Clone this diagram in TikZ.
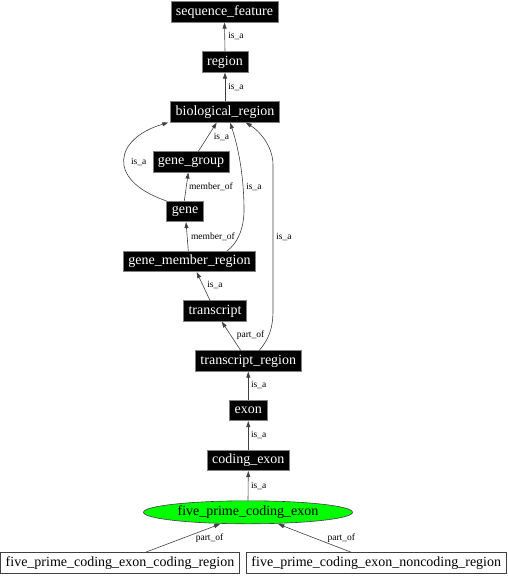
\documentclass[tikz,border=0pt]{standalone}
\usepackage{fontspec}
\setmainfont{Liberation Serif}
\usetikzlibrary{arrows.meta,shapes.geometric}
\definecolor{focusgreen}{HTML}{00FF00}
\definecolor{edgegray}{HTML}{404040}
\definecolor{bordergray}{HTML}{808080}
\begin{document}
\begin{tikzpicture}[x=1pt,y=-1pt,
  term/.style={draw=bordergray, fill=black, text=white, font=\fontsize{14}{16}\selectfont,
    inner xsep=5pt, inner ysep=0pt, minimum height=20.5pt, line width=0.7pt},
  leaf/.style={draw=edgegray, fill=white, text=black, font=\fontsize{14}{16}\selectfont,
    inner xsep=5pt, inner ysep=0pt, minimum height=20.5pt, line width=0.6pt},
  focus/.style={ellipse, draw=edgegray, fill=focusgreen, text=black, font=\fontsize{14}{16}\selectfont,
    inner sep=0pt, minimum width=209pt, minimum height=23pt, line width=0.6pt},
  rel/.style={draw=edgegray, line width=0.6pt, -{Triangle[length=6pt,width=4pt]}},
  lab/.style={font=\fontsize{9.5}{11}\selectfont, inner sep=0pt}
]
\useasboundingbox (0,0) rectangle (508,576);

% nodes
\node[term] (sf)   at (224.5,12)  {sequence\_feature};
\node[term] (reg)  at (225,62)    {region};
\node[term] (bio)  at (225,112)   {biological\_region};
\node[term] (gg)   at (191,162)   {gene\_group};
\node[term] (gene) at (185,211.5) {gene};
\node[term] (gmr)  at (189.5,261.5) {gene\_member\_region};
\node[term] (tx)   at (215,311)   {transcript};
\node[term] (tr)   at (248.3,361) {transcript\_region};
\node[term] (exon) at (248.3,410.5) {exon};
\node[term] (cex)  at (248.3,460.5) {coding\_exon};
\node[focus] (fpce) at (248,512.3) {five\_prime\_coding\_exon};
\node[leaf] (cr)   at (120,563)   {five\_prime\_coding\_exon\_coding\_region};
\node[leaf] (nr)   at (376.3,563) {five\_prime\_coding\_exon\_noncoding\_region};

% edges
\draw[rel] (reg.north) -- (sf.south);
\draw[rel] (bio.north) -- (reg.south);
\draw[rel] ([xshift=7.3pt]gg.north) -- ([xshift=-8.3pt]bio.south);
\draw[rel] (gene.north west) .. controls (105,180) and (115,138) .. ([xshift=-2pt]bio.south west);
\draw[rel] ([xshift=-0.7pt]gene.north) -- ([xshift=-2.7pt]gg.south);
\draw[rel] ([xshift=-1.2pt]gmr.north) -- ([xshift=1pt]gene.south);
\draw[rel] ([xshift=37.5pt]gmr.north) .. controls (238,243) and (244,228) .. (244,210)
  .. controls (244,170) and (236,140) .. ([xshift=5pt]bio.south);
\draw[rel] ([xshift=-5pt]tx.north) -- ([xshift=7.2pt]gmr.south);
\draw[rel] ([xshift=-7.6pt]tr.north) -- ([xshift=6.7pt]tx.south);
\draw[rel] ([xshift=11pt]tr.north) .. controls (268,340) and (273,330) .. (273,310) -- (273,165)
  .. controls (273,145) and (258,130) .. ([xshift=20.7pt]bio.south);
\draw[rel] (exon.north) -- (tr.south);
\draw[rel] (cex.north) -- (exon.south);
\draw[rel] (fpce.north) -- (cex.south);
\draw[rel] ([xshift=25pt]cr.north) -- ([xshift=-28pt]fpce.south);
\draw[rel] ([xshift=-24.6pt]nr.north) -- ([xshift=30.3pt]fpce.south);

% edge labels
\node[lab] (l1)  at (236,36)    {is\_a};
\node[lab] (l2)  at (236,86.5)  {is\_a};
\node[lab] (l3)  at (221.5,136.5) {is\_a};
\node[lab] (l4)  at (138.7,162) {is\_a};
\node[lab] (l5)  at (211,186.5) {member\_of};
\node[lab] (l6)  at (254,186.5) {is\_a};
\node[lab] (l7)  at (213,236.5) {member\_of};
\node[lab] (l8)  at (284,236.5) {is\_a};
\node[lab] (l9)  at (215,285.3) {is\_a};
\node[lab] (l10) at (250.5,335.3) {part\_of};
\node[lab] (l11) at (258.7,385.2) {is\_a};
\node[lab] (l12) at (258.7,435.2) {is\_a};
\node[lab] (l13) at (258.7,486) {is\_a};
\node[lab] (l14) at (209.5,537.8) {part\_of};
\node[lab] (l15) at (341.3,537.8) {part\_of};
\end{tikzpicture}
\end{document}
